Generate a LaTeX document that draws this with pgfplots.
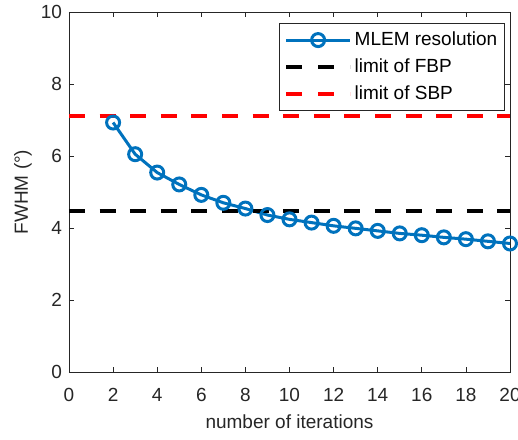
\documentclass[border=0pt]{standalone}
\usepackage{fontspec}
\setmainfont{Liberation Sans}
\usepackage{pgfplots}
\pgfplotsset{compat=1.18}
\definecolor{mblue}{rgb}{0,0.447,0.741}
\definecolor{axgray}{rgb}{0.15,0.15,0.15}
\begin{document}
\begin{tikzpicture}
\begin{axis}[
  name=ax, at={(0,0)}, anchor=south west,
  scale only axis, width=220.5pt, height=180pt,
  xmin=0, xmax=20, ymin=0, ymax=10,
  xtick={0,2,...,20}, ytick={0,2,...,10},
  tick align=inside, major tick length=2.5pt,
  axis line style={axgray, line width=0.4pt},
  every tick/.style={axgray, line width=0.4pt},
  tick label style={font=\fontsize{9.5}{11}\selectfont, text=axgray},
  xticklabel style={yshift=-4.5pt},
  /pgf/number format/assume math mode=true,
  xlabel={number of iterations}, ylabel={FWHM (°)},
  every axis x label/.style={at={(axis description cs:0.5,0)}, anchor=center, yshift=-25pt, font=\fontsize{9.5}{11}\selectfont, text=axgray},
  every axis y label/.style={at={(axis description cs:0,0.5)}, anchor=center, rotate=90, yshift=23pt, font=\fontsize{9.5}{11}\selectfont, text=axgray},
  clip=false,
  legend cell align=left,
  legend style={at={(rel axis cs:0.989,0.969)}, anchor=north east,
    draw=axgray, line width=0.4pt, font=\fontsize{9.5}{11}\selectfont,
    inner xsep=2.5pt, inner ysep=1.5pt,
    nodes={inner xsep=1.25pt, inner ysep=2pt, text height=7.5pt, text depth=2pt}},
  legend image code/.code={\draw[mark repeat=2,mark phase=2,#1] plot coordinates {(0pt,0pt) (16pt,0pt) (32pt,0pt)};},
]
\addplot[mblue, line width=1.5pt, mark=o, mark size=3.25pt, mark options={line width=1.5pt, solid}] coordinates {
(2,6.93) (3,6.05) (4,5.54) (5,5.21) (6,4.92) (7,4.70) (8,4.54) (9,4.36) (10,4.24)
(11,4.15) (12,4.06) (13,3.99) (14,3.92) (15,3.85) (16,3.80) (17,3.74) (18,3.69) (19,3.63) (20,3.57)};
\addlegendentry{MLEM resolution}
\addplot[black, line width=2.1pt, dash pattern=on 8pt off 7.3pt, legend image post style={dash pattern=on 8pt off 8pt}] coordinates {(0,4.47) (20,4.47)};
\addlegendentry{limit of FBP}
\addplot[red, line width=2.1pt, dash pattern=on 8pt off 7.3pt, legend image post style={dash pattern=on 8pt off 8pt}] coordinates {(0,7.11) (20,7.11)};
\addlegendentry{limit of SBP}
\end{axis}
\pgfresetboundingbox
\path (-34.5pt,-33.5pt) rectangle (224.5pt,186pt);
\end{tikzpicture}
\end{document}
